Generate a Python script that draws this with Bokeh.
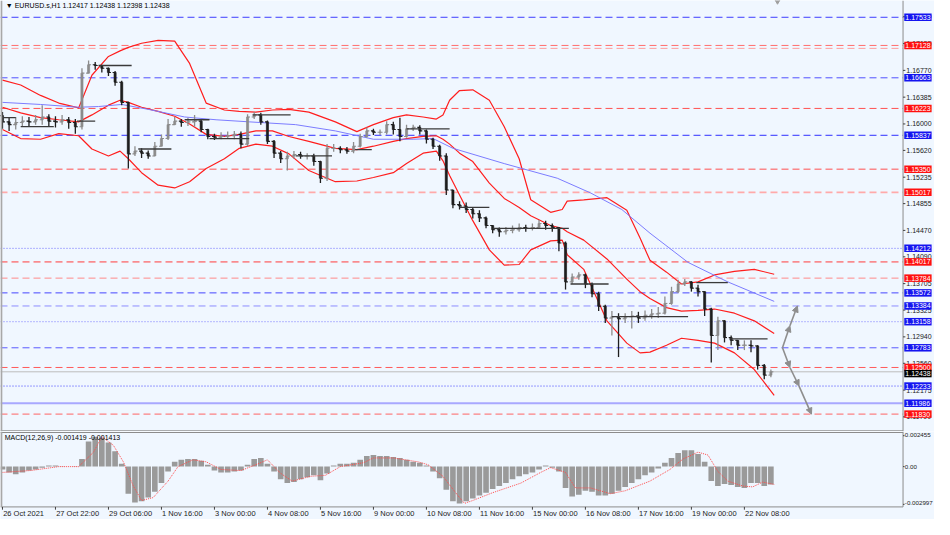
from bokeh.plotting import figure
from bokeh.layouts import column
from bokeh.models import Range1d, Arrow, NormalHead, ColumnDataSource
from bokeh.core.properties import value
from bokeh.embed import file_html
from bokeh.resources import INLINE

# ---------------- data ----------------
# one sample every 4 hourly bars (bar index)
bar_x = list(range(0, 468, 4))
open_first = 1.1612
close = [1.1603,1.1599,1.1602,1.1604,1.1603,1.1606,1.1610,1.1604,1.1603,1.1606,
         1.1602,1.1596,1.1673,1.1685,1.1684,1.1680,1.1674,1.1660,1.1631,1.1557,
         1.1561,1.1558,1.1554,1.1568,1.1579,1.1599,1.1604,1.1602,1.1603,1.1604,
         1.1592,1.1582,1.1581,1.1582,1.1583,1.1585,1.1571,1.1610,1.1613,1.1603,
         1.1575,1.1558,1.1550,1.1554,1.1556,1.1554,1.1554,1.1546,1.1522,1.1565,
         1.1565,1.1563,1.1561,1.1568,1.1582,1.1590,1.1588,1.1588,1.1599,1.1592,
         1.1582,1.1593,1.1595,1.1590,1.1578,1.1568,1.1554,1.1505,1.1484,1.1482,
         1.1477,1.1471,1.1465,1.1454,1.1448,1.1445,1.1447,1.1448,1.1451,1.1450,
         1.1451,1.1457,1.1454,1.1451,1.1429,1.1373,1.1380,1.1383,1.1370,1.1356,
         1.1338,1.1321,1.1323,1.1320,1.1323,1.1324,1.1321,1.1325,1.1327,1.1328,
         1.1342,1.1359,1.1370,1.1373,1.1364,1.1359,1.1334,1.1296,1.1317,1.1293,
         1.1289,1.1282,1.1282,1.1281,1.1253,1.1239,1.12438]
high = [1.1617,1.1610,1.1610,1.1611,1.1610,1.1613,1.1627,1.1614,1.1611,1.1613,
        1.1610,1.1607,1.1680,1.1691,1.1689,1.1685,1.1681,1.1676,1.1662,1.1632,
        1.1568,1.1565,1.1562,1.1574,1.1585,1.1607,1.1610,1.1607,1.1609,1.1613,
        1.1607,1.1593,1.1586,1.1588,1.1589,1.1590,1.1589,1.1614,1.1617,1.1616,
        1.1605,1.1577,1.1561,1.1560,1.1561,1.1560,1.1558,1.1557,1.1547,1.1571,
        1.1571,1.1568,1.1567,1.1574,1.1586,1.1595,1.1593,1.1592,1.1604,1.1603,
        1.1609,1.1599,1.1599,1.1598,1.1592,1.1580,1.1570,1.1558,1.1505,1.1489,
        1.1487,1.1480,1.1476,1.1467,1.1454,1.1451,1.1452,1.1454,1.1457,1.1455,
        1.1457,1.1462,1.1461,1.1457,1.1452,1.1431,1.1385,1.1387,1.1385,1.1372,
        1.1359,1.1340,1.1331,1.1328,1.1328,1.1331,1.1330,1.1332,1.1334,1.1337,
        1.1352,1.1366,1.1376,1.1377,1.1374,1.1369,1.1359,1.1336,1.1323,1.1318,
        1.1296,1.1289,1.1289,1.1289,1.1282,1.1255,1.1247]
low = [1.1593,1.1590,1.1592,1.1596,1.1596,1.1599,1.1599,1.1596,1.1595,1.1599,
       1.1593,1.1586,1.1592,1.1673,1.1678,1.1674,1.1669,1.1655,1.1627,1.1536,
       1.1554,1.1551,1.1550,1.1554,1.1568,1.1577,1.1599,1.1596,1.1597,1.1596,
       1.1588,1.1578,1.1577,1.1578,1.1579,1.1578,1.1565,1.1568,1.1607,1.1599,
       1.1571,1.1551,1.1544,1.1533,1.1550,1.1550,1.1549,1.1540,1.1515,1.1518,
       1.1560,1.1558,1.1557,1.1558,1.1566,1.1580,1.1584,1.1584,1.1585,1.1585,
       1.1575,1.1580,1.1590,1.1585,1.1572,1.1564,1.1547,1.1498,1.1479,1.1477,
       1.1472,1.1464,1.1459,1.1450,1.1443,1.1438,1.1441,1.1443,1.1445,1.1445,
       1.1447,1.1451,1.1448,1.1445,1.1417,1.1362,1.1370,1.1376,1.1364,1.1351,
       1.1331,1.1314,1.1296,1.1265,1.1314,1.1306,1.1314,1.1317,1.1320,1.1321,
       1.1326,1.1340,1.1357,1.1367,1.1359,1.1352,1.1324,1.1257,1.1275,1.1286,
       1.1282,1.1275,1.1275,1.1272,1.1247,1.1233,1.1236]

# Bollinger bands (read at these bar positions)
bb_x = [0,11,23,34,46,54,64,71,76,84,94,104,113,123,134,143,153,163,173,185,
        201,214,224,236,244,254,262,266,270,276,284,294,303,312,319,331,338,341,351,365,
        377,385,391,401,410,420,430,442,454,466]
bb_upper = [1.1663,1.1656,1.1641,1.1630,1.1623,1.1670,1.1697,1.1705,1.1710,1.1716,
            1.1720,1.1719,1.1687,1.1630,1.1620,1.1618,1.1617,1.1620,1.1621,1.1617,
            1.1603,1.1589,1.1599,1.1609,1.1613,1.1610,1.1607,1.1613,1.1634,1.1648,
            1.1649,1.1634,1.1596,1.1550,1.1491,1.1473,1.1477,1.1489,1.1491,1.1494,
            1.1476,1.1436,1.1404,1.1387,1.1370,1.1373,1.1383,1.1388,1.1391,1.1384]
bb_middle = [1.1624,1.1616,1.1609,1.1606,1.1603,1.1613,1.1627,1.1634,1.1631,1.1624,
             1.1618,1.1611,1.1600,1.1585,1.1582,1.1585,1.1590,1.1590,1.1582,1.1575,
             1.1565,1.1563,1.1568,1.1575,1.1579,1.1582,1.1583,1.1578,1.1571,1.1558,
             1.1546,1.1515,1.1493,1.1480,1.1468,1.1454,1.1450,1.1445,1.1433,1.1406,
             1.1377,1.1359,1.1349,1.1336,1.1331,1.1332,1.1334,1.1328,1.1317,1.1299]
bb_lower = [1.1592,1.1579,1.1578,1.1586,1.1583,1.1564,1.1554,1.1561,1.1550,1.1530,
            1.1512,1.1508,1.1517,1.1536,1.1550,1.1565,1.1571,1.1568,1.1557,1.1533,
            1.1517,1.1518,1.1523,1.1530,1.1543,1.1558,1.1561,1.1547,1.1526,1.1498,
            1.1461,1.1419,1.1397,1.1398,1.1419,1.1432,1.1433,1.1412,1.1391,1.1317,
            1.1285,1.1271,1.1272,1.1282,1.1292,1.1289,1.1285,1.1271,1.1247,1.1210]

# slow moving average (blue)
ma_x = [0,23,46,58,72,88,110,129,149,177,201,224,248,260,272,303,335,355,374,391,414,438,466]
ma_vals = [1.1631,1.1628,1.1624,1.1625,1.1628,1.1621,1.1610,1.1606,1.1603,1.1599,1.1590,
           1.1578,1.1578,1.1579,1.1565,1.1543,1.1522,1.1501,1.1477,1.1443,1.1401,1.1373,1.1345]

# short horizontal segments
seg_x0 = [0,11,45,58,82,110,125,151,177,213,244,276,296,343,368,419,439]
seg_x1 = [8,31,56,78,102,125,149,174,199,223,270,294,342,366,414,438,462]
seg_y = [1.1609,1.1596,1.1604,1.1684,1.1564,1.1606,1.1579,1.1613,1.1554,1.1563,
         1.1593,1.1480,1.1450,1.1370,1.1323,1.1372,1.1291]

# horizontal levels
level_prices = [1.17533,1.17128,1.17086,1.16663,1.16223,1.15837,1.15350,1.15017,1.14212,
                1.14017,1.13784,1.13572,1.13384,1.13158,1.12783,1.12500,1.12233,1.11986,1.11830]
labelled_levels = [1.17533,1.17128,1.16663,1.16223,1.15837,1.15350,1.15017,1.14212,1.14017,
                   1.13784,1.13572,1.13384,1.13158,1.12783,1.12500,1.12233,1.11986,1.11830]
current_price = 1.12438
price_ticks = [1.17540,1.17155,1.16770,1.16385,1.16000,1.15620,1.15235,1.14855,1.14470,
               1.14090,1.13705,1.13325,1.12940,1.12560,1.12175,1.11790]

# projected path arrows
arrow_up_x = [471, 475.5, 480]
arrow_up_y = [1.12783, 1.13100, 1.13384]
arrow_dn_x = [471, 475.5, 481, 488.5]
arrow_dn_y = [1.12783, 1.12500, 1.12233, 1.11830]
shift_marker_bar = 468

# MACD
macd_hist = [-0.00023,-0.00046,-0.00061,-0.00046,-0.00031,-0.00023,-0.00008,0.00008,0.00008,0.00002,
             0.00001,0.00003,0.00061,0.00200,0.00238,0.00230,0.00192,0.00123,0.00023,-0.00215,
             -0.00284,-0.00276,-0.00246,-0.00200,-0.00131,-0.00038,0.00038,0.00054,0.00061,0.00061,
             0.00046,0.00015,-0.00031,-0.00046,-0.00046,-0.00038,-0.00031,0.00015,0.00061,0.00069,
             0.00023,-0.00038,-0.00100,-0.00131,-0.00123,-0.00100,-0.00084,-0.00069,-0.00108,-0.00054,
             0.00008,0.00023,0.00023,0.00031,0.00054,0.00084,0.00092,0.00084,0.00084,0.00077,
             0.00069,0.00054,0.00038,0.00031,0.00008,-0.00038,-0.00092,-0.00184,-0.00276,-0.00292,
             -0.00276,-0.00253,-0.00230,-0.00207,-0.00177,-0.00154,-0.00131,-0.00100,-0.00077,-0.00061,
             -0.00046,-0.00023,0.00008,-0.00008,-0.00038,-0.00169,-0.00238,-0.00223,-0.00192,-0.00200,
             -0.00230,-0.00230,-0.00215,-0.00192,-0.00161,-0.00131,-0.00100,-0.00069,-0.00046,-0.00015,
             0.00031,0.00069,0.00108,0.00131,0.00131,0.00100,0.00038,-0.00115,-0.00154,-0.00138,
             -0.00146,-0.00161,-0.00169,-0.00131,-0.00131,-0.00154,-0.001419]
sig_x = [0,17,34,46,55,60,67,73,79,84,91,100,106,115,123,132,144,153,160,168,
         175,186,195,204,218,224,236,251,257,266,275,279,284,296,313,325,331,340,346,355,
         367,376,391,403,411,420,426,432,438,447,453,459,466]
sig_vals = [-0.00046,-0.00031,0.0,0.0,0.00115,0.00238,0.00169,0.00038,-0.00154,-0.00269,
            -0.00246,-0.00115,0.0,0.00054,0.00038,-0.00023,-0.00031,0.00015,0.00054,-0.00054,
            -0.00115,-0.00077,-0.00069,0.0,0.00031,0.00069,0.00069,0.00038,0.00015,-0.00077,
            -0.00230,-0.00292,-0.00269,-0.00207,-0.00131,-0.00046,-0.00008,-0.00046,-0.00169,-0.00169,
            -0.00215,-0.00192,-0.00115,-0.00023,0.00061,0.00115,0.00092,-0.00038,-0.00115,-0.00154,
            -0.00161,-0.00123,-0.001413]
macd_ticks = [0.002455, 0.0, -0.002997]
macd_tick_labels = ["0.002455", "0.00", "-0.002997"]

time_ticks = [0,32,64,96,128,160,192,224,256,288,320,352,384,416,448]
time_labels = ["26 Oct 2021","27 Oct 22:00","29 Oct 06:00","1 Nov 16:00","3 Nov 00:00",
               "4 Nov 08:00","5 Nov 16:00","9 Nov 00:00","10 Nov 08:00","11 Nov 16:00",
               "15 Nov 00:00","16 Nov 08:00","17 Nov 16:00","19 Nov 00:00","22 Nov 08:00"]

title_text = "\u25bc EURUSD.s,H1  1.12417 1.12438 1.12398 1.12438"
macd_text = "MACD(12,26,9) -0.001419 -0.001413"

# ---------------- layout / styles ----------------
BG = "#F0F7FF"
FONT = "Liberation Sans"
W = 934
X0, X1 = -1.19, 562.8          # full window width in bar units
CHART_END = 543.8              # right edge of the plotting area
PRICE_LO, PRICE_HI = 1.11580, 1.17774
MACD_LO, MACD_HI = -0.00420, 0.00279
MACD_FLOOR = -0.00320          # bottom edge of MACD panel
AX = "#8C8C8C"
BLUE_BOX, RED_BOX = "#1414F0", "#FF1010"
level_styles = {
    1.17533: ("#3C3CFF", "7 4", 1.0, BLUE_BOX),
    1.17128: ("#FF6E6E", "7 4", 1.0, RED_BOX),
    1.17086: ("#FF9C9C", "7 4", 1.0, None),
    1.16663: ("#5050FF", "7 4", 1.0, BLUE_BOX),
    1.16223: ("#FF5050", "7 4", 1.0, RED_BOX),
    1.15837: ("#2E2EFF", "7 4", 1.0, BLUE_BOX),
    1.15350: ("#FF5050", "7 4", 1.0, RED_BOX),
    1.15017: ("#FFAAAA", "7 4", 1.6, RED_BOX),
    1.14212: ("#6A6AFF", "1 2", 1.0, BLUE_BOX),
    1.14017: ("#FF3C3C", "7 4", 1.0, RED_BOX),
    1.13784: ("#FF8A8A", "7 4", 1.0, RED_BOX),
    1.13572: ("#4646FF", "7 4", 1.0, BLUE_BOX),
    1.13384: ("#8C8CFF", "7 4", 1.0, BLUE_BOX),
    1.13158: ("#7878FF", "1 2", 1.0, BLUE_BOX),
    1.12783: ("#5A5AFF", "7 4", 1.0, BLUE_BOX),
    1.12500: ("#FF5A5A", "7 4", 1.0, RED_BOX),
    1.12233: ("#3C3CFF", "1 2", 1.0, BLUE_BOX),
    1.11986: ("#A8A8FF", "solid", 2.0, BLUE_BOX),
    1.11830: ("#FF6464", "7 4", 1.0, RED_BOX),
}

x_range = Range1d(X0, X1)


def base_fig(h, yr):
    f = figure(width=W, height=h, x_range=x_range, y_range=yr, output_backend="svg",
               toolbar_location=None, x_axis_location=None, y_axis_location=None,
               background_fill_color=BG, border_fill_color=BG,
               min_border_left=0, min_border_right=0, min_border_top=0, min_border_bottom=0)
    f.grid.visible = False
    f.outline_line_color = None
    return f


# ---------------- price panel ----------------
p = base_fig(431, Range1d(PRICE_LO, PRICE_HI))

for lv in level_prices:
    col, dash, lw, _ = level_styles[lv]
    p.line([X0, CHART_END], [lv, lv], line_color=col, line_dash=dash, line_width=lw)
p.line([X0, CHART_END], [current_price, current_price], line_color="#BDBDBD", line_width=1)

p.line(bb_x, bb_upper, line_color="#FF1E1E", line_width=1.2)
p.line(bb_x, bb_middle, line_color="#FF1E1E", line_width=1.2)
p.line(bb_x, bb_lower, line_color="#FF1E1E", line_width=1.2)
p.line(ma_x, ma_vals, line_color="#7C7CFF", line_width=1.0)

opens = [open_first] + close[:-1]
cols = ["#1E1E1E" if c < o else "#8C8C8C" for o, c in zip(opens, close)]
src = ColumnDataSource(dict(x=bar_x, xl=[x - 1.5 for x in bar_x], xr=[x + 1.5 for x in bar_x],
                            o=opens, h=high, l=low, c=close, col=cols))
p.vbar(x="x", top="o", bottom="c", width=1.3, fill_color="col", line_color="col",
       line_width=0.6, source=src)
p.segment(x0="x", y0="l", x1="x", y1="h", line_color="col", line_width=1.3, source=src)
p.segment(x0="xl", y0="o", x1="x", y1="o", line_color="col", line_width=1.1, source=src)
p.segment(x0="x", y0="c", x1="xr", y1="c", line_color="col", line_width=1.1, source=src)

p.segment(x0=seg_x0, y0=seg_y, x1=seg_x1, y1=seg_y, line_color="#3A3A3A", line_width=1.3)

GR = "#8E8E8E"
for xs, ys in ((arrow_up_x, arrow_up_y), (arrow_dn_x, arrow_dn_y)):
    for i in range(len(xs) - 1):
        p.add_layout(Arrow(end=NormalHead(size=6, fill_color=GR, line_color=GR),
                           x_start=xs[i], y_start=ys[i], x_end=xs[i + 1], y_end=ys[i + 1],
                           line_color=GR, line_width=1.6))
p.scatter([shift_marker_bar], [PRICE_HI - 0.00004], marker="inverted_triangle", size=6,
          fill_color="#A0A0A0", line_color="#A0A0A0")

# frame lines
p.line([CHART_END, CHART_END], [PRICE_LO, PRICE_HI], line_color=AX, line_width=1)
p.line([X0, CHART_END], [PRICE_LO + 0.00010, PRICE_LO + 0.00010], line_color=AX, line_width=1)
p.line([X0 + 0.5, X0 + 0.5], [PRICE_LO, PRICE_HI], line_color="#A8A8A8", line_width=2)

# price scale
p.segment(x0=[CHART_END] * len(price_ticks), y0=price_ticks,
          x1=[CHART_END + 1.4] * len(price_ticks), y1=price_ticks, line_color="#404040")
p.text(x=[CHART_END + 2.0] * len(price_ticks), y=price_ticks,
       text=["%.5f" % t for t in price_ticks], text_font=value(FONT), text_font_size="7px",
       text_color="#222222", text_baseline="middle", text_align="left")

# level boxes
box_y = labelled_levels + [current_price]
box_c = [level_styles[lv][3] for lv in labelled_levels] + ["#000000"]
box_off = [0.0] * len(labelled_levels) + [-0.00025]
box_yc = [a + b for a, b in zip(box_y, box_off)]
p.rect(x=[CHART_END + 9.0] * len(box_y), y=box_yc, width=16.5, height=7.5, height_units="screen",
       fill_color=box_c, line_color=None)
p.text(x=[CHART_END + 1.4] * len(box_y), y=box_yc, text=["%.5f" % v for v in box_y],
       text_font=value(FONT), text_font_size="7px", text_color="white",
       text_baseline="middle", text_align="left")

p.text(x=[X0 + 3.2], y=[PRICE_HI - 0.00020], text=[title_text], text_font=value(FONT),
       text_font_size="7px", text_color="#000000", text_baseline="top", text_align="left")

# ---------------- MACD panel ----------------
m = base_fig(88, Range1d(MACD_LO, MACD_HI))
m.vbar(x=bar_x, top=macd_hist, bottom=0, width=3.4, fill_color="#9A9A9A", line_color=None)
m.line(sig_x, sig_vals, line_color="#FF4C4C", line_dash="1 1", line_width=1)
m.text(x=[X0 + 2.5], y=[0.00262], text=[macd_text], text_font=value(FONT),
       text_font_size="7px", text_color="#000000", text_baseline="top", text_align="left")

m.line([X0, CHART_END], [MACD_HI - 0.00008, MACD_HI - 0.00008], line_color=AX, line_width=1)
m.line([X0, CHART_END], [MACD_FLOOR, MACD_FLOOR], line_color=AX, line_width=1)
m.line([CHART_END, CHART_END], [MACD_FLOOR, MACD_HI], line_color=AX, line_width=1)
m.line([X0 + 0.5, X0 + 0.5], [MACD_FLOOR, MACD_HI], line_color="#A8A8A8", line_width=2)

m.segment(x0=[CHART_END] * 3, y0=macd_ticks, x1=[CHART_END + 0.9] * 3, y1=macd_ticks,
          line_color="#404040")
m.text(x=[CHART_END + 1.1] * 3, y=[0.00250, 0.0, -0.00290], text=macd_tick_labels,
       text_font=value(FONT), text_font_size="6.2px", text_color="#222222",
       text_baseline="middle", text_align="left")

m.segment(x0=time_ticks, y0=[MACD_FLOOR] * len(time_ticks), x1=time_ticks,
          y1=[MACD_FLOOR - 0.00022] * len(time_ticks), line_color="#404040")
m.text(x=[t + 0.4 for t in time_ticks], y=[-0.00370] * len(time_ticks), text=time_labels,
       text_font=value(FONT), text_font_size="7.5px", text_color="#222222",
       text_baseline="middle", text_align="left")

layout = column(p, m, spacing=0)
open("out.html", "w").write(file_html(layout, INLINE))
